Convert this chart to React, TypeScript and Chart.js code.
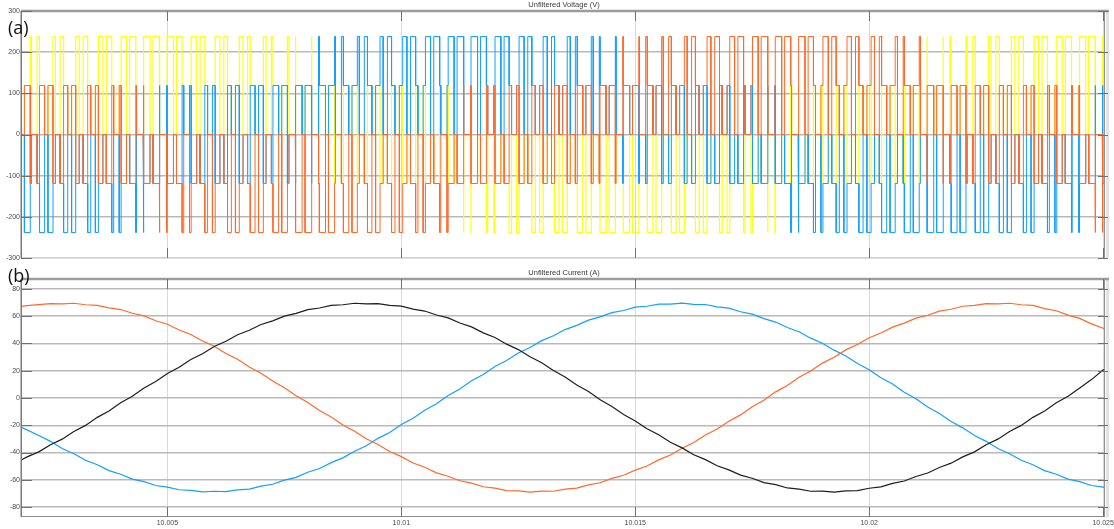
import React, { useEffect, useRef } from "react";
import { Chart, registerables } from "chart.js";

Chart.register(...registerables);

// ---------- axes ----------
const X_MIN = 10.00187;
const X_MAX = 10.02504;
const xTickValues = [10.005, 10.01, 10.015, 10.02, 10.025];
const xTickLabels = ["10.005", "10.01", "10.015", "10.02", "10.025"];
const voltageTickValues = [-300, -200, -100, 0, 100, 200, 300];
const voltageTickLabels = ["-300", "-200", "-100", "0", "100", "200", "300"];
const currentTickValues = [-80, -60, -40, -20, 0, 20, 40, 60, 80];
const currentTickLabels = ["-80", "-60", "-40", "-20", "0", "20", "40", "60", "80"];
const CURRENT_LIMIT = 87.3;

// ---------- voltage (inverter leg duty per carrier period) ----------
const CARRIER_FIRST_CENTER = 10.00191;
const CARRIER_PERIOD = 0.0005;
const DC_LINK = 357;

const dutyYellow = [0.738, 0.781, 0.816, 0.844, 0.863, 0.873, 0.874, 0.866, 0.849, 0.823, 0.79, 0.749, 0.702, 0.65, 0.595, 0.537, 0.478, 0.419, 0.363, 0.31, 0.262, 0.22, 0.184, 0.157, 0.137, 0.127, 0.126, 0.134, 0.151, 0.177, 0.21, 0.251, 0.298, 0.35, 0.406, 0.463, 0.522, 0.581, 0.637, 0.69, 0.738, 0.781, 0.816, 0.844, 0.863, 0.873, 0.874];
const dutyBlue = [0.13, 0.144, 0.167, 0.198, 0.236, 0.282, 0.332, 0.387, 0.444, 0.503, 0.561, 0.619, 0.673, 0.722, 0.767, 0.805, 0.835, 0.857, 0.871, 0.875, 0.87, 0.856, 0.833, 0.802, 0.764, 0.718, 0.668, 0.613, 0.556, 0.497, 0.439, 0.382, 0.328, 0.278, 0.233, 0.195, 0.165, 0.143, 0.129, 0.125, 0.13, 0.144, 0.167, 0.198, 0.236, 0.282, 0.332];
const dutyOrange = [0.632, 0.575, 0.517, 0.458, 0.4, 0.345, 0.294, 0.247, 0.207, 0.174, 0.149, 0.133, 0.125, 0.127, 0.139, 0.158, 0.187, 0.223, 0.266, 0.315, 0.368, 0.425, 0.483, 0.542, 0.6, 0.655, 0.706, 0.753, 0.793, 0.826, 0.851, 0.868, 0.875, 0.873, 0.862, 0.842, 0.813, 0.777, 0.734, 0.685, 0.632, 0.575, 0.517, 0.458, 0.4, 0.345, 0.294];

// ---------- currents ----------
const currentTime = [10.00175, 10.002, 10.00225, 10.0025, 10.00275, 10.003, 10.00325, 10.0035, 10.00375, 10.004, 10.00425, 10.0045, 10.00475, 10.005, 10.00525, 10.0055, 10.00575, 10.006, 10.00625, 10.0065, 10.00675, 10.007, 10.00725, 10.0075, 10.00775, 10.008, 10.00825, 10.0085, 10.00875, 10.009, 10.00925, 10.0095, 10.00975, 10.01, 10.01025, 10.0105, 10.01075, 10.011, 10.01125, 10.0115, 10.01175, 10.012, 10.01225, 10.0125, 10.01275, 10.013, 10.01325, 10.0135, 10.01375, 10.014, 10.01425, 10.0145, 10.01475, 10.015, 10.01525, 10.0155, 10.01575, 10.016, 10.01625, 10.0165, 10.01675, 10.017, 10.01725, 10.0175, 10.01775, 10.018, 10.01825, 10.0185, 10.01875, 10.019, 10.01925, 10.0195, 10.01975, 10.02, 10.02025, 10.0205, 10.02075, 10.021, 10.02125, 10.0215, 10.02175, 10.022, 10.02225, 10.0225, 10.02275, 10.023, 10.02325, 10.0235, 10.02375, 10.024, 10.02425, 10.0245, 10.02475, 10.025, 10.02525];
const currentBlack = [-47.8, -43.2, -39.5, -34.3, -30.2, -24.6, -20.1, -14.2, -9.5, -3.5, 1.3, 7.4, 12.1, 18.0, 22.6, 28.2, 32.5, 37.8, 41.6, 46.4, 49.7, 53.9, 56.6, 60.1, 62.1, 64.8, 66.0, 68.0, 68.4, 69.5, 69.0, 69.3, 68.0, 67.4, 65.2, 63.8, 60.9, 58.8, 55.0, 52.2, 47.8, 44.4, 39.5, 35.5, 30.2, 25.8, 20.1, 15.4, 9.5, 4.7, -1.3, -6.2, -12.1, -16.8, -22.6, -27.0, -32.5, -36.6, -41.6, -45.2, -49.7, -52.7, -56.6, -58.9, -62.1, -63.6, -66.0, -66.8, -68.4, -68.3, -69.0, -68.1, -68.0, -66.2, -65.2, -62.6, -60.9, -57.6, -55.0, -51.0, -47.8, -43.2, -39.5, -34.3, -30.2, -24.6, -20.1, -14.2, -9.5, -3.5, 1.3, 7.4, 13.5, 20.5, 25.0];
const currentOrange = [66.8, 67.8, 68.5, 69.3, 69.0, 69.5, 68.4, 68.0, 66.1, 64.9, 62.2, 60.2, 56.7, 54.1, 49.9, 46.6, 41.8, 38.0, 32.7, 28.4, 22.8, 18.2, 12.4, 7.6, 1.6, -3.3, -9.2, -14.0, -19.8, -24.4, -29.9, -34.1, -39.3, -43.0, -47.7, -50.8, -54.9, -57.4, -60.7, -62.5, -65.1, -66.1, -67.9, -68.1, -69.0, -68.3, -68.4, -66.8, -66.1, -63.7, -62.2, -59.0, -56.7, -52.9, -49.9, -45.4, -41.8, -36.8, -32.7, -27.2, -22.8, -17.0, -12.4, -6.4, -1.6, 4.5, 9.2, 15.2, 19.8, 25.6, 29.9, 35.3, 39.3, 44.2, 47.7, 52.0, 54.9, 58.6, 60.7, 63.7, 65.1, 67.3, 67.9, 69.3, 69.0, 69.5, 68.4, 68.0, 65.6, 64.0, 60.8, 58.4, 54.4, 51.2, 46.5];
const currentBlue = [-19.5, -23.4, -27.5, -31.8, -37.1, -40.9, -45.7, -49.0, -53.3, -55.9, -59.5, -61.4, -64.2, -65.4, -67.3, -67.7, -68.9, -68.4, -68.7, -67.4, -66.8, -64.7, -63.3, -60.3, -58.2, -54.5, -51.7, -47.4, -43.9, -39.0, -35.1, -29.6, -25.3, -19.5, -14.9, -9.0, -4.2, 1.8, 6.6, 12.6, 17.3, 23.1, 27.5, 33.0, 37.1, 42.1, 45.7, 50.2, 53.3, 57.1, 59.5, 62.6, 64.2, 66.6, 67.3, 68.9, 68.9, 69.6, 68.7, 68.6, 66.8, 65.9, 63.3, 61.5, 58.2, 55.7, 51.7, 48.6, 43.9, 40.2, 35.1, 30.8, 25.3, 20.7, 14.9, 10.2, 4.2, -0.6, -6.6, -11.4, -17.3, -21.9, -27.5, -31.8, -37.1, -40.9, -45.7, -49.0, -53.3, -55.9, -59.5, -61.4, -64.2, -65.4, -67.3];

// ---------- styles ----------
const YELLOW = "#FFFF11";
const BLUE = "#139FFF";
const ORANGE = "#FF6929";
const BLACK = "#1e1e1e";
const FONT = "'Liberation Sans', Arial, sans-serif";

type Pt = { x: number; y: number };

function buildPhaseVoltages(): Pt[][] {
  const legs = [dutyYellow, dutyBlue, dutyOrange];
  const out: Pt[][] = [[], [], []];
  const third = DC_LINK / 3;
  const phaseV = (s: number[]) => [
    third * (2 * s[0] - s[1] - s[2]),
    third * (2 * s[1] - s[0] - s[2]),
    third * (2 * s[2] - s[0] - s[1]),
  ];
  const state = [0, 0, 0];
  const n = dutyYellow.length;
  const start = CARRIER_FIRST_CENTER - CARRIER_PERIOD / 2;
  const v0 = phaseV(state);
  for (let p = 0; p < 3; p++) out[p].push({ x: start, y: v0[p] });
  for (let k = 0; k < n; k++) {
    const c = CARRIER_FIRST_CENTER + k * CARRIER_PERIOD;
    const events: { t: number; leg: number; on: number }[] = [];
    for (let j = 0; j < 3; j++) {
      const half = (legs[j][k] * CARRIER_PERIOD) / 2;
      events.push({ t: c - half, leg: j, on: 1 });
      events.push({ t: c + half, leg: j, on: 0 });
    }
    events.sort((a, b) => a.t - b.t);
    for (const e of events) {
      const before = phaseV(state);
      state[e.leg] = e.on;
      const after = phaseV(state);
      for (let p = 0; p < 3; p++) {
        if (before[p] !== after[p]) {
          out[p].push({ x: e.t, y: before[p] });
          out[p].push({ x: e.t, y: after[p] });
        }
      }
    }
  }
  const end = CARRIER_FIRST_CENTER + (n - 0.5) * CARRIER_PERIOD;
  const vEnd = phaseV(state);
  for (let p = 0; p < 3; p++) out[p].push({ x: end, y: vEnd[p] });
  return out;
}

const scopeFrame = {
  id: "scopeFrame",
  afterDraw(chart: any, _args: any, opts: any) {
    const { ctx, chartArea, scales } = chart;
    const { left, right, top, bottom } = chartArea;
    const line = (x1: number, y1: number, x2: number, y2: number) => {
      ctx.beginPath();
      ctx.moveTo(x1, y1);
      ctx.lineTo(x2, y2);
      ctx.stroke();
    };
    ctx.save();
    ctx.fillStyle = "#e3e3e3";
    ctx.fillRect(right + 1, top, 3, bottom - top);
    ctx.strokeStyle = opts.bottomColor || "#8a8a8a";
    ctx.lineWidth = 1;
    line(left, bottom - 0.5, right, bottom - 0.5);
    ctx.strokeStyle = "#8f8f8f";
    ctx.lineWidth = 1;
    line(right - 0.5, top, right - 0.5, bottom);
    ctx.strokeStyle = "#7a7a7a";
    ctx.lineWidth = 1.5;
    line(left + 0.25, top, left + 0.25, bottom);
    ctx.strokeStyle = "#9c9c9c";
    ctx.lineWidth = 2.5;
    line(left, top, right + 4, top);
    ctx.strokeStyle = "#707070";
    ctx.lineWidth = 1;
    const yTicks: number[] = opts.yTicks || [];
    for (const v of yTicks) {
      const py = Math.round(scales.y.getPixelForValue(v)) + 0.5;
      line(left, py, left + 11, py);
      line(right - 7, py, right + 3, py);
    }
    for (const v of xTickValues) {
      const px = Math.round(scales.x.getPixelForValue(v)) + 0.5;
      line(px, top, px, top + 10);
      line(px, bottom - 10, px, bottom);
    }
    ctx.restore();
  },
};

function makeOptions(yMin: number, yMax: number, yTicks: number[], yLabels: string[], showX: boolean, padding: any, bottomColor: string) {
  return {
    responsive: false,
    maintainAspectRatio: false,
    devicePixelRatio: 1,
    animation: false as const,
    events: [] as any[],
    layout: { padding },
    plugins: {
      legend: { display: false },
      tooltip: { enabled: false },
      title: { display: false },
      scopeFrame: { yTicks, bottomColor },
    },
    elements: { point: { radius: 0 }, line: { tension: 0 } },
    scales: {
      x: {
        type: "linear" as const,
        min: X_MIN,
        max: X_MAX,
        afterBuildTicks: (sc: any) => {
          sc.ticks = xTickValues.map((v) => ({ value: v }));
        },
        afterFit: (sc: any) => {
          sc.paddingLeft = 0;
          sc.paddingRight = 0;
          sc.height = showX ? 12 : 0;
        },
        ticks: {
          display: showX,
          autoSkip: false,
          maxRotation: 0,
          padding: 2,
          color: "#4a4a4a",
          font: { size: 7, family: FONT },
          callback: (_v: any, i: number) => xTickLabels[i],
        },
        grid: { color: "#d9d9d9", lineWidth: 1, drawTicks: false },
        border: { display: false },
      },
      y: {
        type: "linear" as const,
        min: yMin,
        max: yMax,
        afterBuildTicks: (sc: any) => {
          sc.ticks = yTicks.map((v) => ({ value: v }));
        },
        afterFit: (sc: any) => {
          sc.width = 21;
          sc.paddingTop = 0;
          sc.paddingBottom = 0;
        },
        ticks: {
          padding: 1,
          color: "#4a4a4a",
          font: { size: 7, family: FONT },
          callback: (_v: any, i: number) => yLabels[i],
        },
        grid: { color: "#b9b9b9", lineWidth: 1.5, drawTicks: false },
        border: { display: false },
      },
    },
  };
}

export default function App() {
  const vRef = useRef<HTMLCanvasElement>(null);
  const iRef = useRef<HTMLCanvasElement>(null);

  useEffect(() => {
    const phases = buildPhaseVoltages();
    const vChart = new Chart(vRef.current as HTMLCanvasElement, {
      type: "line",
      data: {
        datasets: [
          { label: "Phase C", data: phases[2], borderColor: ORANGE, borderWidth: 1, pointRadius: 0, fill: false },
          { label: "Phase B", data: phases[1], borderColor: BLUE, borderWidth: 1, pointRadius: 0, fill: false },
          { label: "Phase A", data: phases[0], borderColor: YELLOW, borderWidth: 1.2, pointRadius: 0, fill: false },
        ],
      },
      options: makeOptions(-300, 300, voltageTickValues, voltageTickLabels, false, { left: 0, right: 9, top: 11, bottom: 6 }, "#d2d2d2") as any,
      plugins: [scopeFrame],
    });

    const mk = (arr: number[]) => arr.map((y, i) => ({ x: currentTime[i], y }));
    const iChart = new Chart(iRef.current as HTMLCanvasElement, {
      type: "line",
      data: {
        datasets: [
          { label: "Phase A", data: mk(currentBlack), borderColor: BLACK, borderWidth: 1.2, pointRadius: 0, fill: false },
          { label: "Phase C", data: mk(currentOrange), borderColor: ORANGE, borderWidth: 1.2, pointRadius: 0, fill: false },
          { label: "Phase B", data: mk(currentBlue), borderColor: BLUE, borderWidth: 1.2, pointRadius: 0, fill: false },
        ],
      },
      options: makeOptions(-CURRENT_LIMIT, CURRENT_LIMIT, currentTickValues, currentTickLabels, true, { left: 0, right: 9, top: 15, bottom: 0 }, "#8a8a8a") as any,
      plugins: [scopeFrame],
    });

    return () => {
      vChart.destroy();
      iChart.destroy();
    };
  }, []);

  const titleStyle = (top: number): React.CSSProperties => ({
    position: "absolute",
    left: 564,
    top,
    transform: "translateX(-50%)",
    fontFamily: FONT,
    fontSize: 7.5,
    lineHeight: "9px",
    color: "#3a3a3a",
    whiteSpace: "nowrap",
  });
  const panelLabel = (top: number): React.CSSProperties => ({
    position: "absolute",
    left: 8,
    top,
    fontFamily: "'Open Sans', 'Noto Sans', sans-serif",
    fontSize: 18,
    lineHeight: "20px",
    color: "#111",
  });

  return (
    <div style={{ position: "fixed", left: 0, top: 0, width: 1114, height: 529, background: "#ffffff", overflow: "hidden" }}>
      <canvas ref={vRef} width={1114} height={264} style={{ position: "absolute", left: 0, top: 0, display: "block" }} />
      <canvas ref={iRef} width={1114} height={265} style={{ position: "absolute", left: 0, top: 264, display: "block" }} />
      <div style={titleStyle(0)}>Unfiltered Voltage (V)</div>
      <div style={titleStyle(268)}>Unfiltered Current (A)</div>
      <div style={panelLabel(17)}>(a)</div>
      <div style={panelLabel(265)}>(b)</div>
    </div>
  );
}
